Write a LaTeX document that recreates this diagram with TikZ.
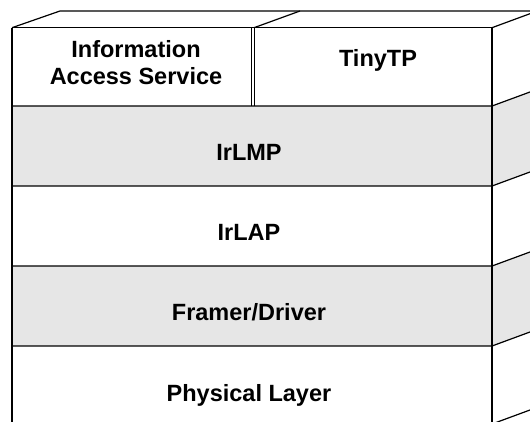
\documentclass[tikz,border=0pt]{standalone}
\usepackage{fontspec}
\setmainfont{Liberation Sans}
\definecolor{layergrey}{RGB}{230,230,230}
\begin{document}
\begin{tikzpicture}[x=1pt,y=-1pt,
  edge/.style={draw=black,line width=1.2pt},
  lbl/.style={font=\bfseries\fontsize{23.5}{27}\selectfont, anchor=base, inner sep=0pt, align=center}]
\useasboundingbox (0,0) rectangle (530,421);
\clip (0,0) rectangle (530,421);
% grey fills (front and right faces)
\fill[layergrey] (12,106) rectangle (492,186);
\fill[layergrey] (12,266) rectangle (492,346);
\fill[layergrey] (492,106) -- (540,88.3) -- (540,168.3) -- (492,186) -- cycle;
\fill[layergrey] (492,266) -- (540,248.3) -- (540,328.3) -- (492,346) -- cycle;
% top face
\draw[edge] (12,27.7) -- (60,11) -- (540,11);
\draw[edge] (254,27.7) -- (300,11);
\draw[edge] (12,27.7) -- (492,27.7);
% front vertical edges
\draw[edge] (12,27.7) -- (12,430);
\draw[edge] (492,27.7) -- (492,430);
\draw[edge] (251.3,27.7) -- (251.3,106);
\draw[edge] (254.5,27.7) -- (254.5,106);
% layer boundaries
\foreach \y in {106,186,266,346} {
  \draw[edge] (12,\y) -- (492,\y) -- (540,\y-17.7);
}
\draw[edge] (492,27.7) -- (540,10);
\draw[edge] (492,424) -- (540,406.3);
% labels
\node[lbl] (ias) at (136,84) {Information\\Access Service};
\node[lbl] (tinytp) at (378,66.5) {TinyTP};
\node[lbl] (irlmp) at (249,160) {IrLMP};
\node[lbl] (irlap) at (249,240) {IrLAP};
\node[lbl] (framer) at (249,320) {Framer/Driver};
\node[lbl] (phys) at (249,401) {Physical Layer};
\end{tikzpicture}
\end{document}
